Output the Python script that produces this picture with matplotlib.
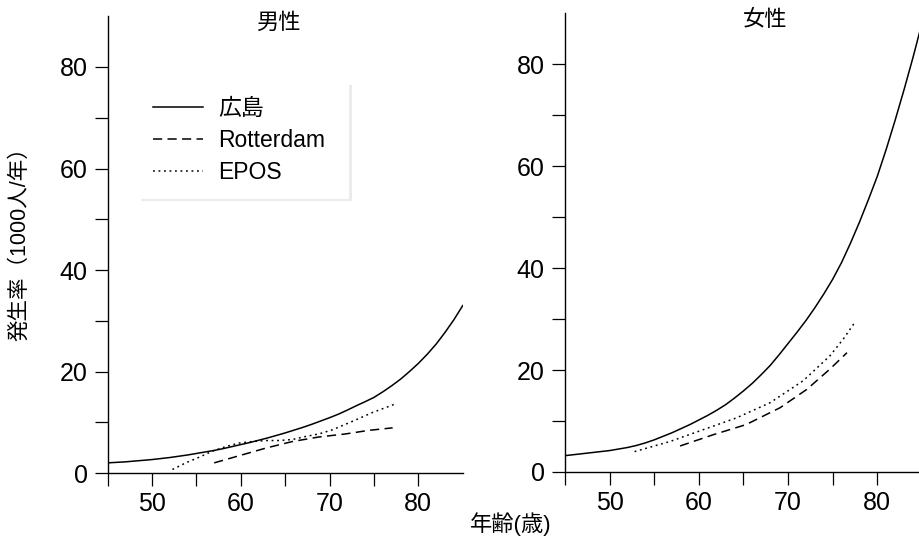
import matplotlib
matplotlib.use("Agg")
import matplotlib.pyplot as plt
from matplotlib.ticker import MultipleLocator, FixedLocator

plt.rcParams['font.family'] = ['Liberation Sans', 'Noto Sans CJK JP']

# --- data (1-year steps for the 広島 curves) ---
age_hiro = list(range(45, 86))
male_hiro = [2.0, 2.1, 2.2, 2.35, 2.5, 2.65, 2.85, 3.05, 3.3, 3.55,
             3.85, 4.15, 4.45, 4.8, 5.2, 5.6, 6.0, 6.45, 6.9, 7.4,
             7.9, 8.45, 9.0, 9.6, 10.25, 10.9, 11.6, 12.4, 13.25, 14.05,
             14.9, 16.0, 17.2, 18.5, 20.0, 21.6, 23.4, 25.4, 27.7, 30.2,
             33.0]
female_hiro = [3.2, 3.4, 3.6, 3.8, 4.0, 4.2, 4.5, 4.8, 5.2, 5.7,
               6.3, 7.0, 7.7, 8.5, 9.3, 10.2, 11.1, 12.1, 13.2, 14.5,
               15.9, 17.4, 19.1, 20.9, 23.0, 25.2, 27.4, 29.7, 32.2, 34.9,
               37.8, 41.1, 44.9, 49.0, 53.4, 58.0, 63.3, 69.0, 75.0, 81.3,
               88.0]

age_m_rot = [57.0, 59.8, 62.8, 65.8, 68.8, 71.8, 74.4, 77.1]
male_rot = [2.0, 3.4, 4.9, 6.2, 7.1, 7.7, 8.4, 8.9]
age_m_epos = [52.3, 53.8, 55.3, 56.8, 58.3, 59.8, 61.3, 62.8, 64.3, 65.8, 67.3, 68.8, 70.3, 72.6, 74.8, 77.4]
male_epos = [0.7, 2.0, 3.1, 4.3, 5.2, 5.9, 6.2, 6.4, 6.4, 6.6, 7.2, 7.7, 8.5, 10.2, 11.9, 13.6]

age_f_rot = [57.9, 61.6, 65.3, 69.1, 72.1, 74.7, 76.6]
female_rot = [5.1, 7.3, 9.3, 12.6, 16.2, 20.2, 23.4]
age_f_epos = [52.8, 56.8, 60.5, 64.2, 68.0, 71.7, 74.7, 76.2, 77.5]
female_epos = [4.0, 6.0, 8.3, 10.6, 13.6, 17.9, 22.8, 26.1, 29.4]

labels = ['広島', 'Rotterdam', 'EPOS']
titles = ['男性', '女性']

dash = (0, (6, 3.5))
dot = (0, (1.2, 2.4))

fig = plt.figure(figsize=(9.2, 5.38), dpi=100)
ax_m = fig.add_axes([0.117, 0.1208, 0.386, 0.849])
ax_f = fig.add_axes([0.6141, 0.1227, 0.388, 0.853])

def style_axis(ax):
    ax.set_xlim(45, 85)
    ax.set_ylim(0, 90)
    for s in ['top', 'right']:
        ax.spines[s].set_visible(False)
    for s in ['left', 'bottom']:
        ax.spines[s].set_linewidth(1.0)
    ax.xaxis.set_major_locator(FixedLocator([50, 60, 70, 80]))
    ax.xaxis.set_minor_locator(FixedLocator([45, 55, 65, 75]))
    ax.yaxis.set_major_locator(MultipleLocator(20))
    ax.yaxis.set_minor_locator(FixedLocator([10, 30, 50, 70]))
    ax.tick_params(which='both', length=9.5, width=0.9, direction='out')
    ax.tick_params(axis='x', labelsize=18, pad=4)
    ax.tick_params(axis='y', labelsize=18, pad=5)

# male panel
ax_m.plot(age_hiro, male_hiro, color='black', lw=1.1, label=labels[0])
ax_m.plot(age_m_rot, male_rot, color='black', lw=1.1, linestyle=dash, label=labels[1])
ax_m.plot(age_m_epos, male_epos, color='black', lw=1.1, linestyle=dot, label=labels[2])
style_axis(ax_m)
ax_m.text(0.48, 0.985, titles[0], transform=ax_m.transAxes, ha='center', va='center', fontsize=16)

# female panel
ax_f.plot(age_hiro, female_hiro, color='black', lw=1.1)
ax_f.plot(age_f_rot, female_rot, color='black', lw=1.1, linestyle=dash)
ax_f.plot(age_f_epos, female_epos, color='black', lw=1.1, linestyle=dot)
style_axis(ax_f)
ax_f.text(0.56, 0.985, titles[1], transform=ax_f.transAxes, ha='center', va='center', fontsize=16)

leg = ax_m.legend(loc='upper left', bbox_to_anchor=(0.085, 0.3, 0.595, 0.555), mode='expand',
                  borderaxespad=0, fontsize=16.5, handlelength=2.2, handletextpad=0.65,
                  labelspacing=0.38, borderpad=0.65, fancybox=False, framealpha=1,
                  shadow={'color': '0.85'})
leg.get_frame().set_edgecolor('white')
leg.get_frame().set_linewidth(0)

fig.text(20 / 920, 1 - 239 / 538, '発生率（1000人/年）', rotation=90, ha='center', va='center', fontsize=15.5)
fig.text(511 / 920, 1 - 524 / 538, '年齢(歳)', ha='center', va='center', fontsize=16)

fig.savefig('out.png', dpi=100)
